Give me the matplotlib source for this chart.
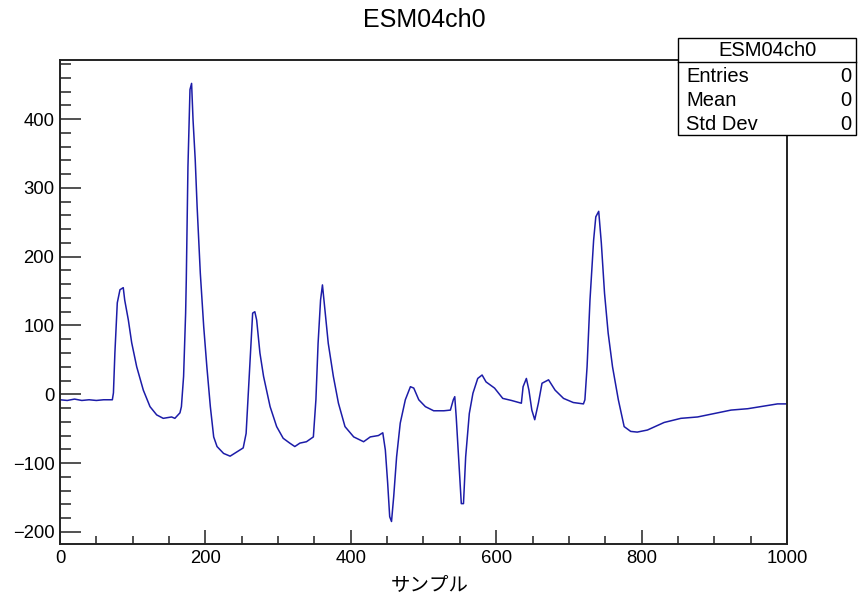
import matplotlib
matplotlib.use("Agg")
import matplotlib.pyplot as plt
from matplotlib.patches import Rectangle
from matplotlib.ticker import MultipleLocator

# ---- data ----
samples = [0, 10, 20, 30, 40, 50, 60, 72, 73.5, 75.5, 78.8, 82.5, 87, 89, 94, 98.6, 105.5, 114.6,
           123.8, 133, 142, 153.5, 158, 165, 167, 170, 172.8, 173.7, 176, 178.8, 181, 183, 186,
           188.6, 193, 197.7, 202, 206.8, 211.4, 216, 225, 234, 243, 252, 256, 259, 262, 265,
           268, 270.5, 275, 280, 289, 298, 307, 316, 323, 330, 339, 348.5, 352, 355, 358.4, 361,
           364, 369, 376, 383, 392, 404, 417.6, 426.8, 438, 444, 447.5, 450.7, 453.5, 456, 459,
           463, 468, 475, 482, 486.6, 493.5, 502.6, 514, 528, 537, 541, 543, 545, 549, 552, 555,
           558, 563, 568, 574.6, 580.6, 586, 597.7, 609, 621, 634.6, 637, 641.5, 645, 649, 653,
           658, 663, 672, 681, 692.6, 706, 720, 722, 725, 729, 734, 737, 741, 744.6, 749, 754,
           760, 768, 776, 785, 794, 808, 831, 854, 877, 900, 923, 946, 969, 987, 1000]
values = [-8, -9, -7, -9, -8, -9, -8, -8, 2, 60, 133, 152, 155, 137, 108, 75, 40, 6,
          -18, -30, -35, -33, -35, -27, -18, 26, 118, 166, 331, 443, 452, 399, 341,
          273, 176, 98, 40, -18, -62, -76, -86, -90, -84, -78, -57, 2, 60, 118,
          120, 108, 60, 26, -18, -47, -64, -71, -76, -71, -69, -62, -8, 74, 137, 159,
          127, 74, 26, -13, -47, -62, -69, -62, -60, -56, -81, -129, -178, -185, -149,
          -91, -42, -8, 11, 9, -8, -18, -24, -24, -23, -8, -3.5, -33, -105, -159, -159,
          -91, -28, 1.5, 23, 28, 18, 9, -6, -9, -13, 11, 23, 6, -23, -37,
          -13, 16, 21, 6, -6, -12, -14, -8, 40, 137, 224, 258, 266, 220, 147, 89,
          40, -8, -47, -54, -55, -52, -41, -35, -33, -28, -23, -21, -17, -14, -14]

title = "ESM04ch0"
xlabel = "サンプル"
stats_labels = ["Entries", "Mean", "Std Dev"]
stats_values = ["0", "0", "0"]
x_range = (0, 1000)
y_range = (-217.7, 486)

plt.rcParams['font.family'] = ['Liberation Sans', 'Noto Sans CJK JP', 'DejaVu Sans']

W, H = 861, 599
fig = plt.figure(figsize=(W / 100, H / 100), dpi=100)
ax = fig.add_axes([60 / W, 1 - 544 / H, (787 - 60) / W, (544 - 60) / H])

ax.plot(samples, values, color='#1c1ca8', lw=1.1)
ax.set_xlim(*x_range)
ax.set_ylim(*y_range)

ax.xaxis.set_major_locator(MultipleLocator(200))
ax.xaxis.set_minor_locator(MultipleLocator(50))
ax.yaxis.set_major_locator(MultipleLocator(100))
ax.yaxis.set_minor_locator(MultipleLocator(20))

ax.tick_params(axis='both', which='both', direction='in', color='#333333', width=1.2,
               labelsize=13.3, top=False, right=False)
ax.tick_params(axis='y', which='major', length=15, pad=4)
ax.tick_params(axis='y', which='minor', length=8)
ax.tick_params(axis='x', which='major', length=10, pad=4.5)
ax.tick_params(axis='x', which='minor', length=5.5)

for s in ax.spines.values():
    s.set_linewidth(1.4)
    s.set_color('#222222')

fig.text(430 / W, 1 - 585 / H, xlabel, ha='center', va='center', fontsize=14,
         family=['Noto Sans CJK JP', 'DejaVu Sans'])
fig.text(424 / W, 1 - 20 / H, title, ha='center', va='center', fontsize=18)

# stats box
bx0, by0, bx1, by1 = 678, 38, 856, 135
fig.patches.append(Rectangle((bx0 / W, 1 - by1 / H), (bx1 - bx0) / W, (by1 - by0) / H,
                             transform=fig.transFigure, facecolor='white',
                             edgecolor='black', lw=1.0, zorder=5))
fig.lines.append(plt.Line2D([bx0 / W, bx1 / W], [1 - 62 / H, 1 - 62 / H],
                            transform=fig.transFigure, color='black', lw=1.0, zorder=6))
fig.text((bx0 + bx1) / 2 / W, 1 - 51 / H, title, ha='center', va='center', fontsize=14.5, zorder=7)
rows_y = [76, 100, 124]
for lab, val, yy in zip(stats_labels, stats_values, rows_y):
    fig.text(686 / W, 1 - yy / H, lab, ha='left', va='center', fontsize=14.5, zorder=7)
    fig.text(851 / W, 1 - yy / H, val, ha='right', va='center', fontsize=14.5, zorder=7)

fig.savefig("out.png", dpi=100)
